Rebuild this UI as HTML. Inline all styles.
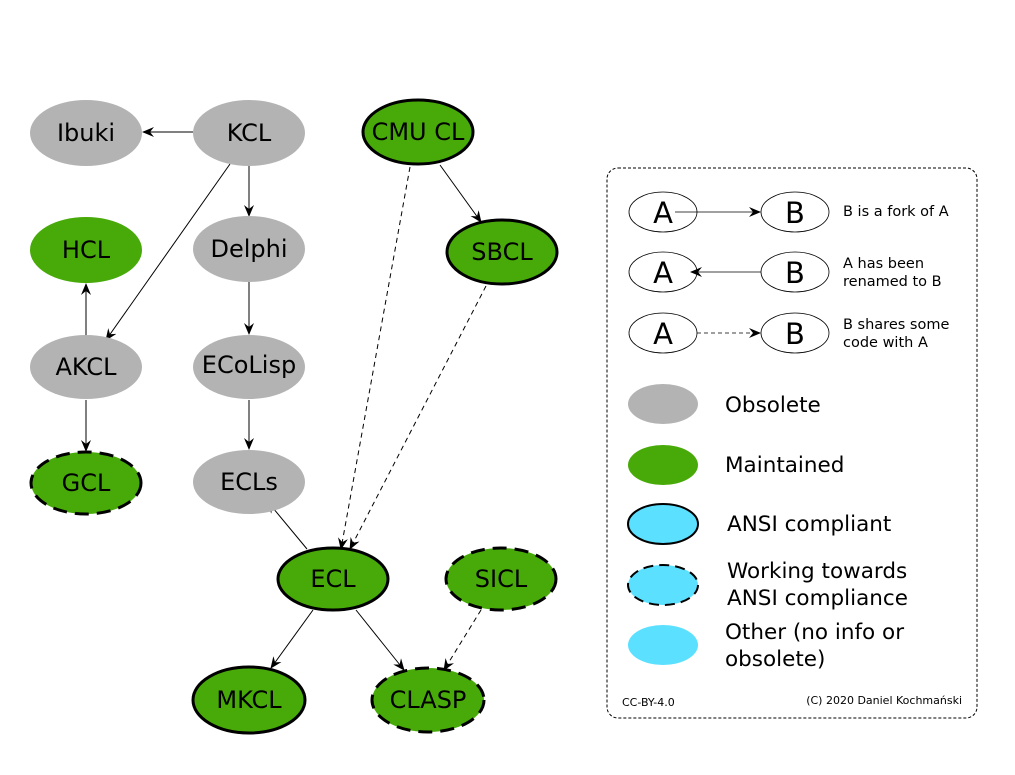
<!DOCTYPE html>
<html><head><meta charset="utf-8"><style>
html,body{margin:0;padding:0;background:#fff}
svg{display:block}
text{font-family:"DejaVu Sans","Liberation Sans",sans-serif;fill:#000}
</style></head><body>
<svg width="1015" height="775" viewBox="0 0 1015 775" xmlns="http://www.w3.org/2000/svg">
<defs>
<marker id="a" viewBox="0 0 12 10" refX="11" refY="5" markerWidth="12" markerHeight="10" markerUnits="userSpaceOnUse" orient="auto">
<path d="M0,0 L12,5 L0,10 L4,5 z" fill="#000"/>
</marker>
</defs>
<g stroke="#000" stroke-width="1" fill="none" marker-end="url(#a)">
<line x1="193" y1="132" x2="143" y2="132"/>
<line x1="249" y1="165" x2="249" y2="216"/>
<line x1="230" y1="164" x2="106" y2="340"/>
<line x1="86" y1="335" x2="86" y2="284"/>
<line x1="86" y1="400" x2="86" y2="451"/>
<line x1="249" y1="282" x2="249" y2="334"/>
<line x1="249" y1="400" x2="249" y2="449"/>
<line x1="307" y1="549" x2="268" y2="502"/>
<line x1="440" y1="165" x2="481" y2="222"/>
<line x1="410" y1="167" x2="341" y2="549" stroke-dasharray="5,4"/>
<line x1="486" y1="286" x2="350" y2="549" stroke-dasharray="5,4"/>
<line x1="313" y1="610" x2="271" y2="668"/>
<line x1="356" y1="610" x2="404" y2="670"/>
<line x1="481" y1="610" x2="444" y2="670" stroke-dasharray="5,4"/>
</g>
<g font-size="24" text-anchor="middle">
<ellipse cx="86" cy="133" rx="56" ry="33" fill="#b3b3b3"/><text x="86" y="141">Ibuki</text>
<ellipse cx="249" cy="133" rx="56" ry="33" fill="#b3b3b3"/><text x="249" y="141">KCL</text>
<ellipse cx="418" cy="132" rx="55" ry="32" fill="#48aa09" stroke="#000" stroke-width="3"/><text x="418" y="140">CMU CL</text>
<ellipse cx="86" cy="250" rx="56" ry="33" fill="#48aa09"/><text x="86" y="258">HCL</text>
<ellipse cx="249" cy="249" rx="56" ry="33" fill="#b3b3b3"/><text x="249" y="257">Delphi</text>
<ellipse cx="502" cy="252" rx="55" ry="32" fill="#48aa09" stroke="#000" stroke-width="3"/><text x="502" y="260">SBCL</text>
<ellipse cx="86" cy="367" rx="56" ry="32" fill="#b3b3b3"/><text x="86" y="375">AKCL</text>
<ellipse cx="249" cy="367" rx="56" ry="32" fill="#b3b3b3"/><text x="249" y="373">ECoLisp</text>
<ellipse cx="86" cy="483" rx="55" ry="31" fill="#48aa09" stroke="#000" stroke-width="3" stroke-dasharray="14,8"/><text x="86" y="491">GCL</text>
<ellipse cx="249" cy="482" rx="56" ry="32" fill="#b3b3b3"/><text x="249" y="490">ECLs</text>
<ellipse cx="333" cy="579" rx="55" ry="31" fill="#48aa09" stroke="#000" stroke-width="3"/><text x="333" y="587">ECL</text>
<ellipse cx="501" cy="579" rx="55" ry="31" fill="#48aa09" stroke="#000" stroke-width="3" stroke-dasharray="14,8"/><text x="501" y="587">SICL</text>
<ellipse cx="249" cy="700" rx="56" ry="33" fill="#48aa09" stroke="#000" stroke-width="3"/><text x="249" y="708">MKCL</text>
<ellipse cx="428" cy="700" rx="56" ry="32" fill="#48aa09" stroke="#000" stroke-width="3" stroke-dasharray="14,8"/><text x="428" y="708">CLASP</text>
</g>
<rect x="607" y="168" width="370" height="550" rx="11" fill="none" stroke="#000" stroke-width="1" stroke-dasharray="3,2"/>
<g fill="#fff" stroke="#000" stroke-width="0.8">
<ellipse cx="663" cy="212" rx="34" ry="20"/><ellipse cx="795" cy="212" rx="34" ry="20"/>
<ellipse cx="663" cy="272" rx="34" ry="20"/><ellipse cx="795" cy="272" rx="34" ry="20"/>
<ellipse cx="663" cy="333" rx="34" ry="20"/><ellipse cx="795" cy="333" rx="34" ry="20"/>
</g>
<g font-size="29" text-anchor="middle">
<text x="663" y="223">A</text><text x="795" y="223">B</text>
<text x="663" y="283">A</text><text x="795" y="283">B</text>
<text x="663" y="344">A</text><text x="795" y="344">B</text>
</g>
<g stroke="#000" stroke-width="0.8" marker-end="url(#a)">
<line x1="675" y1="212" x2="760" y2="212"/>
<line x1="761" y1="272" x2="691" y2="272"/>
<line x1="697" y1="333" x2="760" y2="333" stroke-dasharray="4,3"/>
</g>
<g font-size="14.5">
<text x="843" y="216">B is a fork of A</text>
<text x="843" y="268">A has been</text><text x="843" y="286">renamed to B</text>
<text x="843" y="329">B shares some</text><text x="843" y="347">code with A</text>
</g>
<ellipse cx="663" cy="404" rx="35" ry="20" fill="#b3b3b3"/>
<ellipse cx="663" cy="465" rx="35" ry="20" fill="#48aa09"/>
<ellipse cx="663" cy="524" rx="35" ry="20" fill="#5be0ff" stroke="#000" stroke-width="2"/>
<ellipse cx="663" cy="585" rx="35" ry="20" fill="#5be0ff" stroke="#000" stroke-width="2" stroke-dasharray="10,6"/>
<ellipse cx="663" cy="645" rx="35" ry="20" fill="#5be0ff"/>
<g font-size="21.5">
<text x="725" y="412">Obsolete</text>
<text x="725" y="472">Maintained</text>
<text x="727" y="531">ANSI compliant</text>
<text x="727" y="578">Working towards</text><text x="727" y="605">ANSI compliance</text>
<text x="725" y="639">Other (no info or</text><text x="725" y="666">obsolete)</text>
</g>
<text x="622" y="706" font-size="11">CC-BY-4.0</text>
<text x="962" y="704" font-size="11" text-anchor="end">(C) 2020 Daniel Kochmański</text>
</svg>
</body></html>
